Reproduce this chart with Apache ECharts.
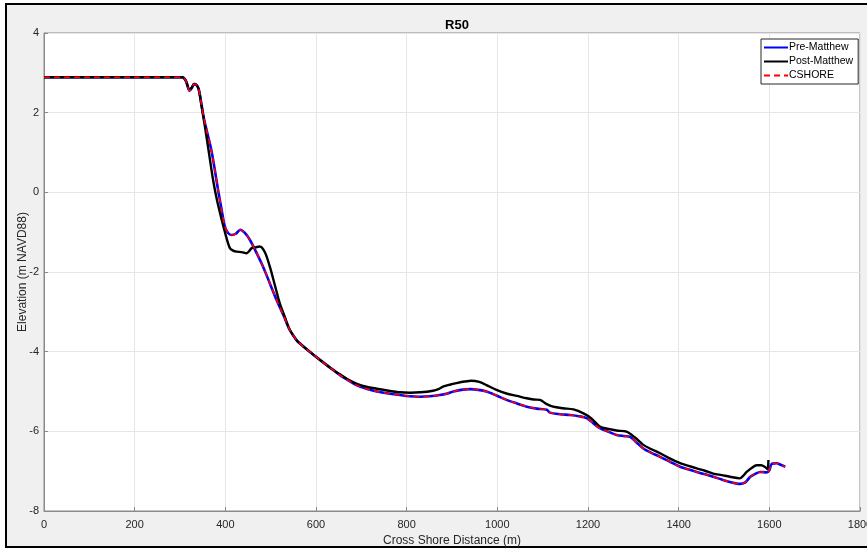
<!DOCTYPE html>
<html>
<head>
<meta charset="utf-8">
<script src="https://cdn.jsdelivr.net/npm/echarts@6/dist/echarts.min.js"></script>
<style>
  html, body { margin: 0; padding: 0; background: #fff; }
  #chart { width: 867px; height: 548px; }
</style>
</head>
<body>
<div id="chart"></div>
<script>
// profile R50, cross shore distance (m) vs elevation (m NAVD88)
const preX = [0, 100, 200, 305, 313, 321, 326, 331, 336, 341, 347, 352, 360, 369, 377, 384, 392, 399, 406, 414, 423, 433, 443, 454, 468, 483, 498, 513, 528, 542, 557, 564, 586, 609, 631, 653, 671, 689, 711, 734, 760, 785, 807, 829, 851, 873, 890, 903, 920, 940, 958, 976, 998, 1020, 1043, 1065, 1087, 1109, 1116, 1138, 1160, 1180, 1197, 1212, 1226, 1245, 1263, 1280, 1293, 1307, 1322, 1340, 1359, 1380, 1403, 1420, 1440, 1458, 1476, 1495, 1513, 1535, 1547, 1558, 1570, 1580, 1594, 1600, 1605, 1616, 1625, 1635];
const preElev = [2.89, 2.89, 2.89, 2.89, 2.80, 2.55, 2.62, 2.72, 2.70, 2.60, 2.24, 1.90, 1.50, 1.07, 0.55, 0.06, -0.45, -0.86, -1.02, -1.07, -1.04, -0.94, -1.02, -1.19, -1.50, -1.86, -2.28, -2.70, -3.08, -3.45, -3.71, -3.79, -4.00, -4.21, -4.40, -4.59, -4.72, -4.84, -4.93, -5.00, -5.05, -5.09, -5.12, -5.13, -5.12, -5.09, -5.05, -5.00, -4.96, -4.94, -4.96, -5.00, -5.10, -5.21, -5.30, -5.38, -5.43, -5.46, -5.53, -5.57, -5.59, -5.62, -5.67, -5.80, -5.92, -6.01, -6.09, -6.12, -6.14, -6.28, -6.43, -6.54, -6.64, -6.76, -6.89, -6.95, -7.02, -7.08, -7.14, -7.21, -7.27, -7.32, -7.28, -7.14, -7.06, -7.02, -7.03, -6.98, -6.82, -6.80, -6.84, -6.89];
const postX = [0, 100, 200, 305, 313, 321, 326, 331, 336, 341, 347, 355, 364, 373, 382, 392, 401, 410, 418, 425, 436, 447, 453, 458, 467, 476, 487, 498, 509, 520, 531, 542, 557, 564, 586, 609, 631, 653, 671, 689, 711, 734, 760, 785, 807, 830, 858, 870, 880, 895, 910, 928, 943, 960, 976, 998, 1020, 1043, 1065, 1080, 1094, 1108, 1123, 1145, 1168, 1190, 1208, 1226, 1245, 1263, 1285, 1303, 1322, 1340, 1359, 1380, 1403, 1420, 1440, 1458, 1476, 1495, 1513, 1535, 1542, 1550, 1561, 1572, 1582, 1591, 1596, 1598];
const postElev = [2.89, 2.89, 2.89, 2.89, 2.80, 2.57, 2.63, 2.72, 2.70, 2.60, 2.20, 1.65, 0.98, 0.31, -0.22, -0.69, -1.08, -1.40, -1.47, -1.49, -1.50, -1.53, -1.47, -1.40, -1.38, -1.36, -1.50, -1.86, -2.32, -2.78, -3.12, -3.45, -3.71, -3.79, -4.00, -4.21, -4.40, -4.57, -4.70, -4.80, -4.88, -4.93, -4.98, -5.02, -5.03, -5.02, -4.98, -4.94, -4.88, -4.83, -4.79, -4.75, -4.73, -4.76, -4.84, -4.96, -5.05, -5.11, -5.17, -5.20, -5.21, -5.31, -5.38, -5.42, -5.45, -5.55, -5.68, -5.88, -5.94, -5.98, -6.01, -6.15, -6.34, -6.45, -6.55, -6.68, -6.80, -6.86, -6.93, -6.99, -7.06, -7.10, -7.14, -7.18, -7.12, -7.02, -6.92, -6.85, -6.85, -6.90, -6.95, -6.72];
// CSHORE result sits on top of the pre-storm profile
const cshoreX = preX;
const cshoreElev = preElev;

const xTicks = { min: 0, max: 1800, interval: 200 };
const yTicks = { min: -8, max: 4, interval: 2 };

const pairs = (xs, ys) => xs.map((x, i) => [x, ys[i]]);

const chart = echarts.init(document.getElementById("chart"));

const axisText = {
  color: "#262626",
  fontSize: 11,
  fontFamily: "Liberation Sans, Arial, sans-serif"
};

const option = {
  backgroundColor: "#ffffff",
  animation: false,
  graphic: [
    {
      type: "rect",
      z: -10,
      shape: { x: 6, y: 4, width: 880, height: 543 },
      style: { fill: "#f0f0f0", stroke: "#000", lineWidth: 2 }
    }
  ],
  title: {
    text: "R50",
    left: 452,
    top: 14,
    textAlign: "center",
    textStyle: {
      fontSize: 13,
      fontWeight: "bold",
      color: "#000",
      fontFamily: "Liberation Sans, Arial, sans-serif"
    }
  },
  legend: {
    orient: "vertical",
    left: 761,
    top: 39,
    padding: [3, 5, 3, 2],
    itemWidth: 24,
    itemHeight: 10,
    itemGap: 3,
    backgroundColor: "#fff",
    borderColor: "#262626",
    borderWidth: 1,
    borderRadius: 0,
    itemStyle: { opacity: 0 },
    textStyle: {
      fontSize: 10.5,
      color: "#000",
      padding: [0, 0, 0, -4],
      fontFamily: "Liberation Sans, Arial, sans-serif"
    },
    data: ["Pre-Matthew", "Post-Matthew", "CSHORE"]
  },
  grid: {
    left: 44,
    right: 7,
    top: 33,
    bottom: 37,
    containLabel: false,
    outerBoundsMode: "none",
    show: true,
    backgroundColor: "#fff",
    borderColor: "#8a8a8a",
    borderWidth: 1
  },
  xAxis: {
    type: "value",
    min: xTicks.min,
    max: xTicks.max,
    interval: xTicks.interval,
    name: "Cross Shore Distance (m)",
    nameLocation: "middle",
    nameGap: 24,
    nameMoveOverlap: false,
    nameTextStyle: Object.assign({}, axisText, { fontSize: 12 }),
    axisLine: { show: true, onZero: false, lineStyle: { color: "#8a8a8a" } },
    axisTick: { show: true, inside: true, length: 4, lineStyle: { color: "#8a8a8a" } },
    axisLabel: Object.assign({ margin: 8, formatter: v => String(v) }, axisText),
    splitLine: { show: true, lineStyle: { color: "#e6e6e6", width: 1 } }
  },
  yAxis: {
    type: "value",
    min: yTicks.min,
    max: yTicks.max,
    interval: yTicks.interval,
    name: "Elevation (m NAVD88)",
    nameLocation: "middle",
    nameGap: 15,
    nameMoveOverlap: false,
    nameTextStyle: Object.assign({}, axisText, { fontSize: 12 }),
    axisLine: { show: true, onZero: false, lineStyle: { color: "#8a8a8a" } },
    axisTick: { show: true, inside: true, length: 4, lineStyle: { color: "#8a8a8a" } },
    axisLabel: Object.assign({ margin: 5 }, axisText),
    splitLine: { show: true, lineStyle: { color: "#e6e6e6", width: 1 } }
  },
  series: [
    {
      name: "Pre-Matthew",
      type: "line",
      data: pairs(preX, preElev),
      symbol: "none",
      smooth: 0.3,
      lineStyle: { color: "#0000ff", width: 2.6 },
      itemStyle: { color: "#0000ff" },
      z: 2
    },
    {
      name: "Post-Matthew",
      type: "line",
      data: pairs(postX, postElev),
      symbol: "none",
      smooth: 0.3,
      lineStyle: { color: "#000000", width: 2.4 },
      itemStyle: { color: "#000000" },
      z: 3
    },
    {
      name: "CSHORE",
      type: "line",
      data: pairs(cshoreX, cshoreElev),
      symbol: "none",
      smooth: 0.3,
      lineStyle: { color: "#ff0000", width: 1.6, type: [6, 4] },
      itemStyle: { color: "#ff0000" },
      z: 4
    }
  ]
};

chart.setOption(option);
</script>
</body>
</html>
